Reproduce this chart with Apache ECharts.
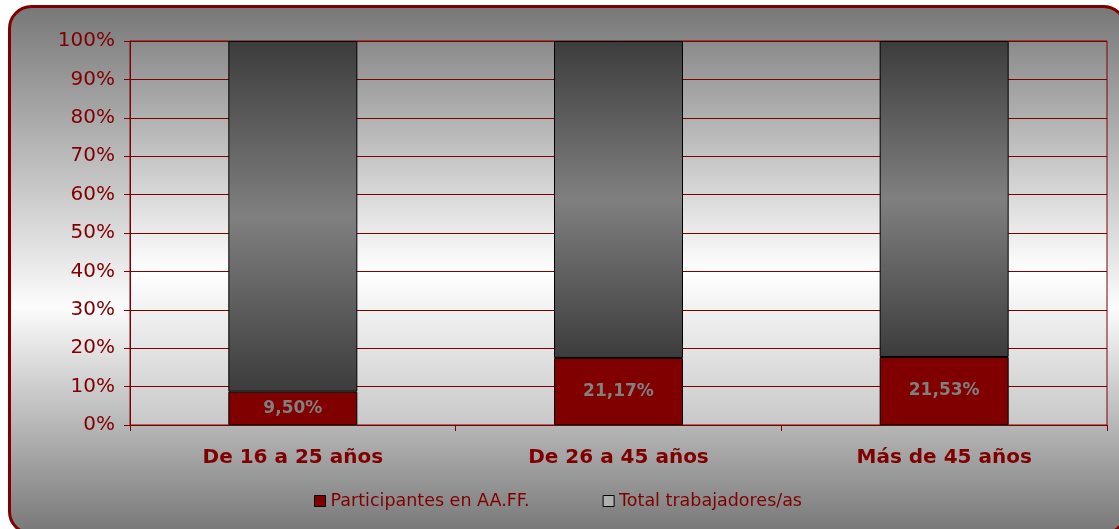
<!DOCTYPE html>
<html>
<head>
<meta charset="utf-8">
<script src="https://cdn.jsdelivr.net/npm/echarts@6/dist/echarts.min.js"></script>
<style>
html,body{margin:0;padding:0;background:#ffffff;}
#chart{width:1119px;height:529px;}
</style>
</head>
<body>
<div id="chart"></div>
<script>
const categories = ['De 16 a 25 años', 'De 26 a 45 años', 'Más de 45 años'];
const participantes = [9.50, 21.17, 21.53];
const totalTrabajadores = [100, 100, 100];
const yTicks = [0, 10, 20, 30, 40, 50, 60, 70, 80, 90, 100];

// 100% stacked: share of each series in the category total
const sums = categories.map((c, i) => participantes[i] + totalTrabajadores[i]);
const partShare = participantes.map((v, i) => ({ value: v / sums[i] * 100, raw: v }));
const totShare = totalTrabajadores.map((v, i) => ({ value: v / sums[i] * 100, raw: v }));

const RED = '#800000';
const grad = (stops) => ({ type: 'linear', x: 0, y: 0, x2: 0, y2: 1, colorStops: stops });

const chart = echarts.init(document.getElementById('chart'), null, { renderer: 'canvas' });
chart.setOption({
  animation: false,
  graphic: [{
    type: 'rect', z: -10, silent: true,
    shape: { x: 9.5, y: 6.5, width: 1116, height: 527, r: 22 },
    style: {
      fill: grad([{ offset: 0, color: '#777777' }, { offset: 0.57, color: '#fcfcfc' }, { offset: 1, color: '#767676' }]),
      stroke: RED, lineWidth: 3
    }
  }],
  grid: {
    left: 130, right: 12, top: 41, bottom: 104,
    show: true, borderColor: RED, borderWidth: 1,
    backgroundColor: grad([{ offset: 0, color: '#8a8a8a' }, { offset: 0.6, color: '#ffffff' }, { offset: 1, color: '#c8c8c8' }])
  },
  legend: {
    left: 314, top: 492, padding: 0,
    itemWidth: 11, itemHeight: 11, itemGap: 73,
    textStyle: { color: RED, fontFamily: 'DejaVu Sans', fontSize: 17.5 },
    data: [
      { name: 'Participantes en AA.FF.', icon: 'rect', itemStyle: { color: RED, borderColor: '#000', borderWidth: 1 } },
      { name: 'Total trabajadores/as', icon: 'rect', itemStyle: { color: '#b0b0b0', borderColor: '#000', borderWidth: 1 } }
    ]
  },
  xAxis: {
    type: 'category', data: categories,
    axisLine: { lineStyle: { color: RED, width: 1 } },
    axisTick: { show: true, length: 6, alignWithLabel: false, lineStyle: { color: RED } },
    axisLabel: { color: RED, fontFamily: 'DejaVu Sans', fontWeight: 'bold', fontSize: 20, margin: 23 }
  },
  yAxis: {
    type: 'value', min: yTicks[0], max: yTicks[yTicks.length - 1], interval: 10,
    axisLine: { show: true, lineStyle: { color: RED, width: 1 } },
    axisTick: { show: true, length: 6, lineStyle: { color: RED } },
    splitLine: { show: true, lineStyle: { color: RED, width: 1 } },
    axisLabel: { color: RED, fontFamily: 'DejaVu Sans', fontSize: 20, margin: 15, formatter: '{value}%' }
  },
  series: [{
    name: 'Participantes en AA.FF.', type: 'bar', stack: 'total', barWidth: 129,
    data: partShare,
    itemStyle: { color: RED, borderColor: '#000', borderWidth: 1 },
    label: {
      show: true, position: 'inside', color: '#808080', fontFamily: 'DejaVu Sans', fontWeight: 'bold', fontSize: 17,
      formatter: (p) => p.data.raw.toFixed(2).replace('.', ',') + '%'
    }
  }, {
    name: 'Total trabajadores/as', type: 'bar', stack: 'total', barWidth: 129,
    data: totShare,
    itemStyle: {
      color: grad([{ offset: 0, color: '#3c3c3c' }, { offset: 0.5, color: '#808080' }, { offset: 1, color: '#3c3c3c' }]),
      borderColor: '#000', borderWidth: 1
    }
  }]
});
</script>
</body>
</html>
